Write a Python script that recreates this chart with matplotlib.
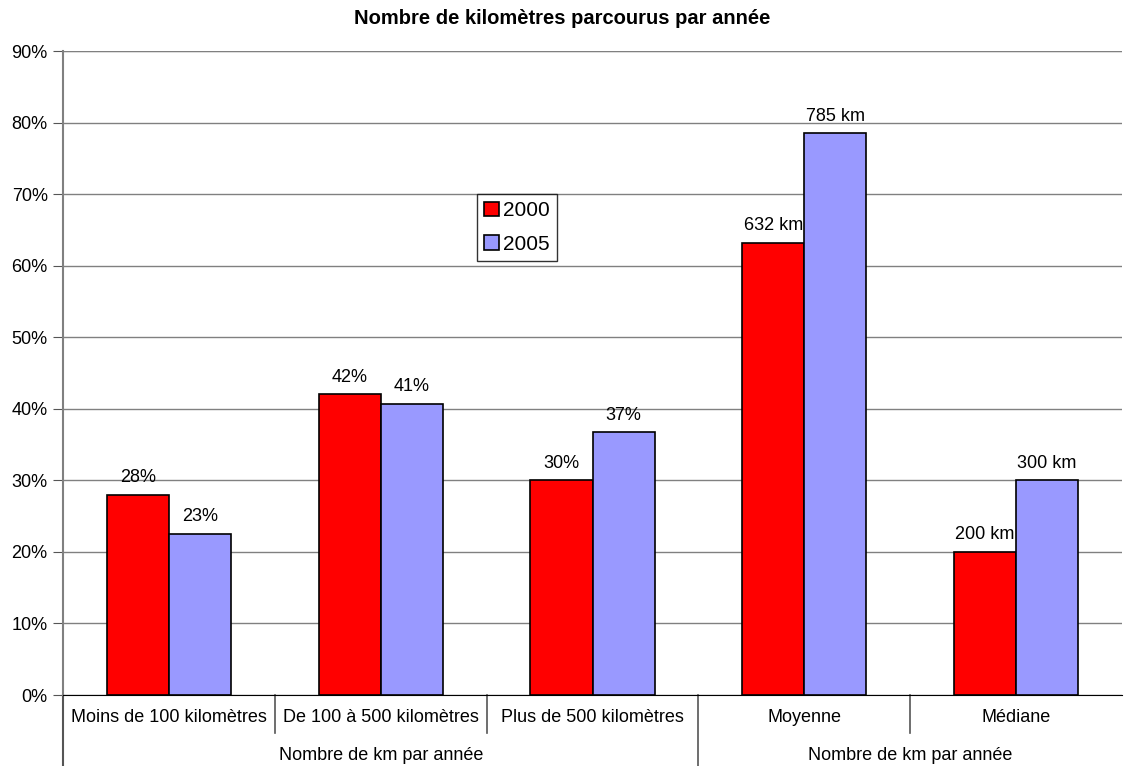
import numpy as np
import matplotlib.pyplot as plt
import matplotlib.transforms as mtransforms
from matplotlib.ticker import PercentFormatter

plt.rcParams['font.family'] = ['Liberation Sans', 'DejaVu Sans']

# data
categories = ["Moins de 100 kilomètres", "De 100 à 500 kilomètres", "Plus de 500 kilomètres",
              "Moyenne", "Médiane"]
groups = ["Nombre de km par année", "Nombre de km par année"]
group_spans = [(0, 3), (3, 5)]
vals_2000 = [0.28, 0.42, 0.30, 0.632, 0.20]
vals_2005 = [0.225, 0.407, 0.367, 0.785, 0.30]
labels_2000 = ["28%", "42%", "30%", "632 km", "200 km"]
labels_2005 = ["23%", "41%", "37%", "785 km", "300 km"]

fig = plt.figure(figsize=(11.24, 7.66), dpi=100)
ax = fig.add_axes([63/1124, 1 - 695/766, (1122 - 63)/1124, (695 - 51)/766])

x = np.arange(len(categories))
w = 0.293
b1 = ax.bar(x - w/2, vals_2000, w, color="#ff0000", edgecolor="black", linewidth=1.2, label="2000", zorder=3)
b2 = ax.bar(x + w/2, vals_2005, w, color="#9999ff", edgecolor="black", linewidth=1.2, label="2005", zorder=3)

for rect, lab in zip(b1, labels_2000):
    ax.text(rect.get_x() + rect.get_width()/2, rect.get_height() + 0.012, lab,
            ha="center", va="bottom", fontsize=13)
for rect, lab in zip(b2, labels_2005):
    ax.text(rect.get_x() + rect.get_width()/2, rect.get_height() + 0.012, lab,
            ha="center", va="bottom", fontsize=13)

ax.set_xlim(-0.5, len(categories) - 0.5)
ax.set_ylim(0, 0.9)
ax.set_yticks(np.arange(0, 0.91, 0.1))
ax.yaxis.set_major_formatter(PercentFormatter(1.0, decimals=0))
ax.tick_params(axis="y", labelsize=13, length=7, pad=4, direction="out", color="#555555")
ax.set_xticks([])
ax.yaxis.grid(True, color="#808080", linewidth=1, zorder=0)

for s in ["right", "top"]:
    ax.spines[s].set_visible(False)
ax.spines["left"].set_color("#808080")
ax.spines["left"].set_linewidth(1.5)
ax.spines["bottom"].set_color("black")
ax.axhline(0.9, color="black", linewidth=1.5, zorder=1)

# multi-level category axis
trans = mtransforms.blended_transform_factory(ax.transData, fig.transFigure)
y_cat = 1 - 718/766
y_grp = 1 - 755/766
for i, c in enumerate(categories):
    ax.text(i, y_cat, c, transform=trans, ha="center", va="center", fontsize=13)
for (a, b), g in zip(group_spans, groups):
    ax.text((a + b - 1)/2, y_grp, g, transform=trans, ha="center", va="center", fontsize=13)

for i in range(1, len(categories)):
    pos = i - 0.5
    if any(pos == s[0] - 0.5 for s in group_spans):
        y_end = 0
    else:
        y_end = 1 - 733/766
    ax.plot([pos, pos], [1 - 695/766, y_end], transform=trans, color="#555555",
            linewidth=1.2, clip_on=False)
ax.plot([-0.5, -0.5], [1 - 695/766, 0], transform=trans, color="#555555",
        linewidth=1.5, clip_on=False)

leg = ax.legend(loc="upper left", bbox_to_anchor=((477 - 63)/1059, (695 - 194)/644),
                fontsize=15, frameon=True, fancybox=False, edgecolor="black",
                handlelength=0.7, handleheight=0.7, handletextpad=0.2,
                borderpad=0.35, labelspacing=0.7, borderaxespad=0)
leg.get_frame().set_linewidth(1)

fig.suptitle("Nombre de kilomètres parcourus par année", fontsize=14.5, fontweight="bold",
             y=1 - 19/766, va="center")

fig.savefig("out.png", dpi=100)
